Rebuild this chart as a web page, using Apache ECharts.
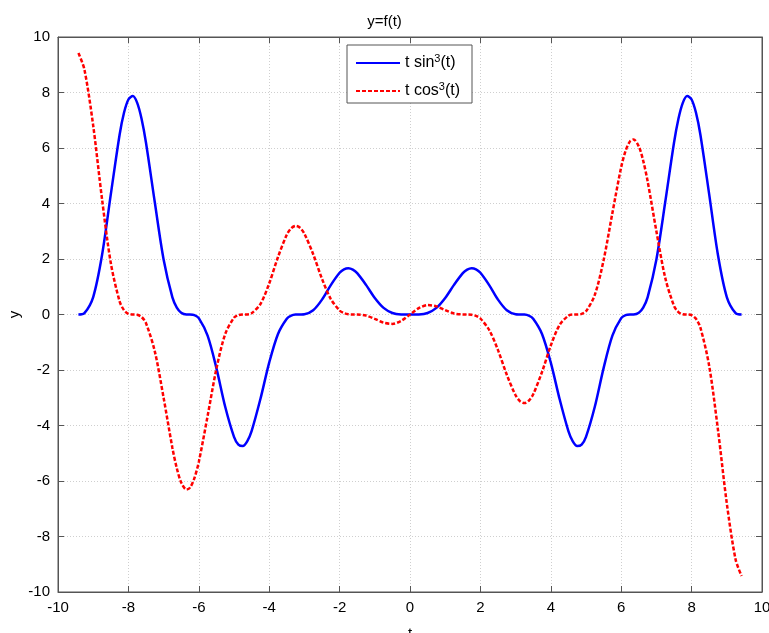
<!DOCTYPE html>
<html>
<head>
<meta charset="utf-8">
<script src="https://cdn.jsdelivr.net/npm/echarts@6/dist/echarts.min.js"></script>
<style>
html,body{margin:0;padding:0;background:#fff;}
#chart{width:769px;height:633px;}
</style>
</head>
<body>
<div id="chart"></div>
<script>
// t 取值
var tVals = [-9.42,-9.25,-9,-8.75,-8.5,-8.25,-8.125,-8,-7.875,-7.75,-7.625,-7.5,-7.25,-7,-6.75,-6.625,-6.5,-6.35,-6.25,-6.125,-6,-5.75,-5.5,-5.25,-5,-4.875,-4.75,-4.625,-4.5,-4.25,-4,-3.75,-3.5,-3.375,-3.25,-3.125,-3,-2.75,-2.5,-2.25,-2,-1.875,-1.75,-1.625,-1.5,-1.25,-1,-0.75,-0.5,-0.25,
    0,0.25,0.5,0.75,1,1.25,1.5,1.625,1.75,1.875,2,2.25,2.5,2.75,3,3.125,3.25,3.375,3.5,3.75,4,4.25,4.5,4.625,4.75,4.875,5,5.25,5.5,5.75,6,6.125,6.25,6.35,6.5,6.625,6.75,7,7.25,7.5,7.625,7.75,7.875,8,8.125,8.25,8.5,8.75,9,9.25,9.42];

// t sin^3(t)
var sinVals = [0,0.049,0.630,2.133,4.327,6.480,7.269,7.748,7.870,7.625,7.046,6.190,4.044,1.985,0.615,0.249,0.065,0.002,0,-0.024,-0.131,-0.763,-1.931,-3.326,-4.409,-4.687,-4.740,-4.573,-4.203,-3.047,-1.734,-0.700,-0.151,-0.042,-0.004,0,0.008,0.153,0.536,1.060,1.504,1.628,1.667,1.618,1.489,1.068,0.596,0.238,0.055,0.004,
    0,0.004,0.055,0.238,0.596,1.068,1.489,1.618,1.667,1.628,1.504,1.060,0.536,0.153,0.008,0,-0.004,-0.042,-0.151,-0.700,-1.734,-3.047,-4.203,-4.573,-4.740,-4.687,-4.409,-3.326,-1.931,-0.763,-0.131,-0.024,0,0.002,0.065,0.249,0.615,1.985,4.044,6.190,7.046,7.625,7.870,7.748,7.269,6.480,4.327,2.133,0.630,0.049,0];

// t cos^3(t)
var cosVals = [9.42,8.832,6.807,4.167,1.855,0.473,0.156,0.025,0,-0.009,-0.089,-0.312,-1.328,-3.000,-4.807,-5.540,-6.054,-6.308,-6.239,-5.898,-5.312,-3.660,-1.958,-0.705,-0.114,-0.021,0,0.003,0.042,0.377,1.117,2.072,2.875,3.108,3.193,3.124,2.911,2.172,1.285,0.558,0.144,0.050,0.010,0,-0.001,-0.039,-0.158,-0.294,-0.338,-0.227,
    0,0.227,0.338,0.294,0.158,0.039,0.001,0,-0.010,-0.050,-0.144,-0.558,-1.285,-2.172,-2.911,-3.124,-3.193,-3.108,-2.875,-2.072,-1.117,-0.377,-0.042,-0.003,0,0.021,0.114,0.705,1.958,3.660,5.312,5.898,6.239,6.308,6.054,5.540,4.807,3.000,1.328,0.312,0.089,0.009,0,-0.025,-0.156,-0.473,-1.855,-4.167,-6.807,-8.832,-9.42];

function pairs(ys){
    var out = [];
    for (var i = 0; i < tVals.length; i++) {
        out.push([tVals[i], ys[i]]);
    }
    return out;
}

var font = 'Liberation Sans, Arial, sans-serif';
var chart = echarts.init(document.getElementById('chart'));

var axisBase = {
    type: 'value',
    min: -10,
    max: 10,
    interval: 2,
    axisLine: {show: true, onZero: false, lineStyle: {color: '#555', width: 1}},
    axisTick: {show: true, inside: true, length: 6, lineStyle: {color: '#555'}}
};
var gridLine = {show: true, lineStyle: {color: '#cfcfcf', type: [1, 2], width: 1}};

var option = {
    backgroundColor: '#fff',
    animation: false,
    title: {
        text: 'y=f(t)',
        left: 'center',
        top: 9,
        textStyle: {fontFamily: font, fontSize: 15, fontWeight: 'normal', color: '#000'}
    },
    legend: {
        left: 347,
        top: 45,
        orient: 'vertical',
        itemWidth: 44,
        itemHeight: 14,
        itemGap: 10,
        padding: [8, 12, 4, 8],
        borderColor: '#555',
        borderWidth: 1,
        backgroundColor: '#fff',
        itemStyle: {opacity: 0},
        data: ['sin', 'cos'],
        formatter: function (name) {
            return name === 'sin' ? 't sin{sup|3}(t)' : 't cos{sup|3}(t)';
        },
        textStyle: {
            fontFamily: font,
            fontSize: 16,
            color: '#000',
            rich: {
                sup: {fontFamily: font, fontSize: 11, color: '#000', padding: [0, 0, 9, 0]}
            }
        }
    },
    grid: {
        left: 58,
        right: 7,
        top: 37,
        bottom: 41,
        outerBoundsMode: 'none',
        containLabel: false,
        show: true,
        borderColor: '#555',
        borderWidth: 1
    },
    xAxis: [
        Object.assign({}, axisBase, {
            position: 'bottom',
            name: 't',
            nameLocation: 'middle',
            nameGap: 34,
            nameMoveOverlap: false,
            nameTextStyle: {fontFamily: font, fontSize: 15, color: '#000'},
            axisLabel: {fontFamily: font, fontSize: 15, color: '#000', margin: 8},
            splitLine: gridLine
        }),
        Object.assign({}, axisBase, {
            position: 'top',
            axisLabel: {show: false},
            splitLine: {show: false}
        })
    ],
    yAxis: [
        Object.assign({}, axisBase, {
            position: 'left',
            name: 'y',
            nameLocation: 'middle',
            nameGap: 36,
            nameMoveOverlap: false,
            nameRotate: 90,
            nameTextStyle: {fontFamily: font, fontSize: 15, color: '#000'},
            axisLabel: {fontFamily: font, fontSize: 15, color: '#000', margin: 8},
            splitLine: gridLine
        }),
        Object.assign({}, axisBase, {
            position: 'right',
            axisLabel: {show: false},
            splitLine: {show: false}
        })
    ],
    series: [
        {
            name: 'sin',
            type: 'line',
            data: pairs(sinVals),
            smooth: 0.3,
            showSymbol: false,
            symbol: 'none',
            lineStyle: {color: '#0000ff', width: 2.5},
            itemStyle: {color: '#0000ff'}
        },
        {
            name: 'cos',
            type: 'line',
            data: pairs(cosVals),
            smooth: 0.3,
            showSymbol: false,
            symbol: 'none',
            lineStyle: {color: '#ff0000', width: 2.5, type: [4, 2]},
            itemStyle: {color: '#ff0000'}
        }
    ]
};

chart.setOption(option);
window.onresize = chart.resize;
</script>
</body>
</html>
